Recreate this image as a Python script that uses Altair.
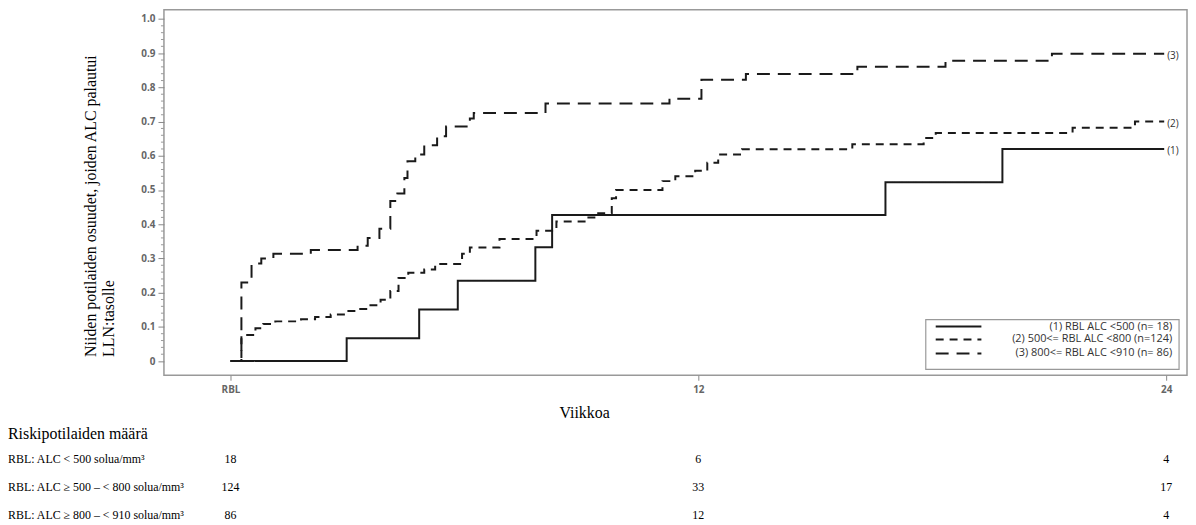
import altair as alt
import pandas as pd

# ---------------- data ----------------
week_ticks = [0, 12, 24]
y_ticks = [round(i * 0.1, 1) for i in range(11)]
y_minor_ticks = [round(i * 0.02, 2) for i in range(51) if i % 5 != 0]

# (1) RBL ALC <500
weeks_1 = [0, 2.98, 4.84, 5.83, 7.82, 8.25, 16.8, 19.8, 23.95]
vals_1 = [0, 0.067, 0.151, 0.235, 0.333, 0.427, 0.523, 0.620, 0.620]

# (2) 500<= RBL ALC <800
weeks_2 = [0, 0.28, 0.64, 0.84, 1.15, 1.81, 2.17, 2.57, 2.96, 3.26,
           3.59, 3.85, 4.10, 4.31, 4.56, 4.97, 5.25, 5.94, 6.14, 6.90,
           7.85, 8.36, 9.12, 9.38, 9.78, 9.89, 11.08, 11.41, 11.92, 12.23,
           12.51, 13.12, 15.95, 17.78, 18.09, 21.6, 23.2, 23.95]
vals_2 = [0, 0.076, 0.096, 0.108, 0.116, 0.122, 0.129, 0.136, 0.146, 0.152,
          0.163, 0.179, 0.205, 0.243, 0.258, 0.268, 0.284, 0.314, 0.332, 0.357,
          0.381, 0.408, 0.42, 0.432, 0.476, 0.50, 0.526, 0.54, 0.556, 0.58,
          0.604, 0.619, 0.634, 0.652, 0.667, 0.682, 0.70, 0.70]

# (3) 800<= RBL ALC <910
weeks_3 = [0, 0.28, 0.54, 0.79, 1.10, 2.06, 3.26, 3.52, 3.82, 4.10,
           4.28, 4.46, 4.54, 4.74, 4.97, 5.30, 5.53, 6.14, 6.24, 8.08,
           11.26, 12.08, 13.22, 16.08, 18.34, 21.07, 23.95]
vals_3 = [0, 0.23, 0.285, 0.30, 0.314, 0.325, 0.337, 0.36, 0.387, 0.468,
          0.49, 0.535, 0.584, 0.604, 0.631, 0.657, 0.686, 0.709, 0.725, 0.753,
          0.767, 0.822, 0.839, 0.860, 0.878, 0.898, 0.898]

group_ids = ["1", "2", "3"]
legend_labels = ["(1) RBL ALC <500 (n= 18)",
                 "(2) 500<= RBL ALC <800 (n=124)",
                 "(3) 800<= RBL ALC <910 (n= 86)"]
end_tags = ["(1)", "(2)", "(3)"]

y_title = ["Niiden potilaiden osuudet, joiden ALC palautui", "LLN:tasolle"]
x_title = "Viikkoa"

risk_title = "Riskipotilaiden määrä"
risk_rows = ["RBL: ALC < 500 solua/mm³",
             "RBL: ALC ≥ 500 – < 800 solua/mm³",
             "RBL: ALC ≥ 800 – < 910 solua/mm³"]
risk_weeks = [0, 12, 24]
risk_counts = [[18, 6, 4], [124, 33, 17], [86, 12, 4]]

# ---------------- styles ----------------
dashes = [[1, 0], [8, 6], [13, 8]]
SERIF = "Liberation Serif"
SANS = "Open Sans"
W, H = 1030, 368

x_scale = alt.Scale(domain=[-1.707, 24.535], nice=False, zero=False)
y_scale = alt.Scale(domain=[-0.0415, 1.027], nice=False, zero=False)

curve_rows = []
for gid, ws, vs in zip(group_ids, [weeks_1, weeks_2, weeks_3], [vals_1, vals_2, vals_3]):
    for w, v in zip(ws, vs):
        curve_rows.append({"week": w, "value": v, "grp": gid})
df_curves = pd.DataFrame(curve_rows)

df_end = pd.DataFrame({
    "week": [weeks_1[-1], weeks_2[-1], weeks_3[-1]],
    "value": [vals_1[-1], vals_2[-1], vals_3[-1]],
    "tag": end_tags,
})

dummy = pd.DataFrame({"k": [0]})

x_axis = alt.Axis(
    values=week_ticks,
    labelExpr="datum.value == 0 ? 'RBL' : format(datum.value, 'd')",
    title=x_title, titleFont=SERIF, titleFontSize=16, titleFontWeight="normal",
    titleColor="black", titleX=423, titleY=38, titleBaseline="middle", titleAlign="center",
    domain=False, grid=False, tickSize=5, tickColor="#888",
    labelFont=SANS, labelFontSize=10, labelFontWeight="bold", labelColor="#666",
    labelPadding=4, labelOverlap=False)
y_axis = alt.Axis(
    values=y_ticks, tickCount=11,
    labelExpr="datum.value == 0 ? '0' : format(datum.value, '.1f')",
    title=y_title, titleFont=SERIF, titleFontSize=16, titleFontWeight="normal",
    titleColor="black", titleAngle=270, titleAlign="left", titleBaseline="top",
    titleX=-82, titleY=349, titleLineHeight=18,
    domain=False, grid=False, tickSize=6, tickColor="#888",
    labelFont=SANS, labelFontSize=10, labelFontWeight="bold", labelColor="#666",
    labelPadding=3, labelOverlap=False)


def X(field):
    return alt.X(field, scale=x_scale, axis=x_axis)


def Y(field):
    return alt.Y(field, scale=y_scale, axis=y_axis)


curves = alt.Chart(df_curves).mark_line(
    interpolate="step-after", strokeWidth=2, color="#1a1a1a"
).encode(
    x=X("week:Q"),
    y=Y("value:Q"),
    strokeDash=alt.StrokeDash("grp:N", scale=alt.Scale(domain=group_ids, range=dashes), legend=None),
)

minor = alt.Chart(pd.DataFrame({"value": y_minor_ticks})).mark_rule(
    color="#999", strokeWidth=1
).encode(
    x=alt.value(-3), x2=alt.value(0),
    y=Y("value:Q"),
)

ends = alt.Chart(df_end).mark_text(
    align="left", baseline="middle", dx=3, dy=2, font=SANS, fontSize=10, color="#333"
).encode(
    x=X("week:Q"),
    y=Y("value:Q"),
    text="tag:N",
)

layers = [curves, minor, ends]

# legend (drawn inside the plot, bottom right)
lx0, lx1, ly0, ly1 = 767, 1022, 312, 362
layers.append(alt.Chart(dummy).mark_rect(fill="white", stroke="#999", strokeWidth=1.2).encode(
    x=alt.value(lx0), x2=alt.value(lx1), y=alt.value(ly0), y2=alt.value(ly1)))
leg_y = [319, 332, 346]
for i in range(3):
    layers.append(alt.Chart(dummy).mark_rule(
        color="#1a1a1a", strokeWidth=2, strokeDash=dashes[i]
    ).encode(x=alt.value(777), x2=alt.value(823), y=alt.value(leg_y[i])))
    layers.append(alt.Chart(dummy).mark_text(
        align="right", baseline="middle", font=SANS, fontSize=11, color="#333"
    ).encode(x=alt.value(1015), y=alt.value(leg_y[i]), text=alt.value(legend_labels[i])))

# number at risk table
layers.append(alt.Chart(dummy).mark_text(
    align="left", baseline="middle", font=SERIF, fontSize=16, color="black"
).encode(x=alt.value(-157), y=alt.value(427), text=alt.value(risk_title)))
row_y = [452, 481, 509]
for i in range(3):
    layers.append(alt.Chart(dummy).mark_text(
        align="left", baseline="middle", font=SERIF, fontSize=12, color="black"
    ).encode(x=alt.value(-157), y=alt.value(row_y[i]), text=alt.value(risk_rows[i])))
    df_n = pd.DataFrame({"week": risk_weeks, "n": risk_counts[i]})
    layers.append(alt.Chart(df_n).mark_text(
        align="center", baseline="middle", font=SERIF, fontSize=12, color="black"
    ).encode(
        x=X("week:Q"),
        y=alt.value(row_y[i]),
        text="n:Q",
    ))

chart = alt.layer(*layers).properties(
    width=W, height=H,
    autosize=alt.AutoSizeParams(type="none"),
    padding={"left": 157, "top": 0, "right": 1, "bottom": 148},
).configure_view(stroke="#999", strokeWidth=1.5)

chart.save("out.html", embed_options={"renderer": "svg", "actions": False})
